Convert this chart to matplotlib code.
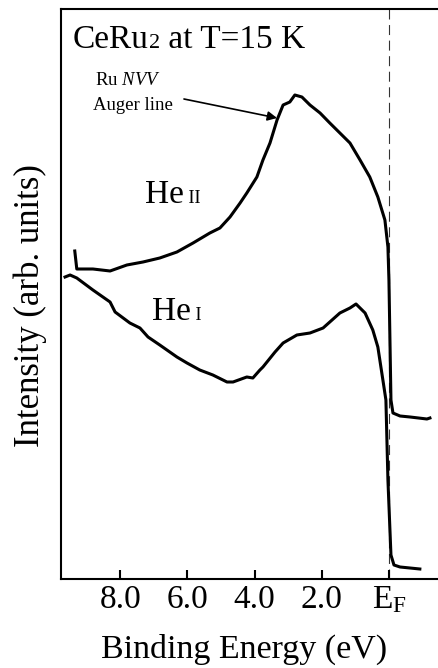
import matplotlib
matplotlib.use("Agg")
import matplotlib.pyplot as plt

plt.rcParams['font.family'] = ['Liberation Serif', 'DejaVu Serif']
plt.rcParams['mathtext.fontset'] = 'custom'
plt.rcParams['mathtext.rm'] = 'Liberation Serif'
plt.rcParams['mathtext.it'] = 'Liberation Serif:italic'

# Binding energy (eV) and intensity (arb. units)
he2_energy = [9.35, 9.29, 8.81, 8.30, 7.80, 7.32, 6.82, 6.31, 5.83, 5.33, 5.03, 4.73,
              4.43, 4.23, 3.93, 3.75, 3.54, 3.33, 3.15, 2.95, 2.80, 2.59, 2.35, 2.05,
              1.76, 1.46, 1.16, 0.86, 0.57, 0.33, 0.12, 0.03, 0.00, -0.06, -0.12,
              -0.33, -0.63, -1.13, -1.22]
he2_intensity = [328, 310, 310, 308, 314, 317, 321, 327, 336, 346, 351, 362,
                 376, 386, 402, 419, 436, 459, 474, 477, 484, 482, 474, 466,
                 456, 446, 436, 419, 402, 382, 359, 332, 299, 179, 166,
                 163, 162, 160, 161]

he1_energy = [9.64, 9.49, 9.29, 8.81, 8.30, 8.15, 7.71, 7.41, 7.17, 6.82, 6.31, 6.01,
              5.63, 5.24, 4.82, 4.64, 4.23, 4.05, 3.84, 3.75, 3.39, 3.15, 2.74, 2.35,
              1.96, 1.76, 1.46, 1.16, 0.98, 0.71, 0.48, 0.33, 0.18, 0.09, 0.03,
              -0.06, -0.15, -0.33, -0.92]
he1_intensity = [302, 304, 301, 289, 277, 267, 256, 251, 242, 234, 222, 216,
                 209, 204, 197, 197, 202, 201, 209, 212, 227, 236, 244, 246,
                 251, 257, 266, 271, 275, 266, 249, 232, 199, 179, 99,
                 24, 14, 12, 10]

tick_values = [8, 6, 4, 2, 0]
tick_labels = ['8.0', '6.0', '4.0', '2.0', r'E$_{\mathrm{F}}$']

fig = plt.figure(figsize=(4.39, 6.68), dpi=100)
ax = fig.add_axes([61/439, 89/668, (439-61)/439, (579-9)/668])

ax.plot(he2_energy, he2_intensity, color='black', lw=2.2, solid_joinstyle='round')
ax.plot(he1_energy, he1_intensity, color='black', lw=2.2, solid_joinstyle='round')
ax.axvline(0, color='#333333', lw=0.8, ls=(0, (9, 5)), zorder=0)

ax.set_xlim(9.76, -1.49)
ax.set_ylim(0, 570)

ax.set_xticks(tick_values)
ax.set_xticklabels(tick_labels)
ax.set_yticks([])
ax.tick_params(axis='x', direction='in', length=6.5, width=1.5, labelsize=24, pad=4)
for s in ['top', 'left', 'bottom']:
    ax.spines[s].set_linewidth(1.5)
ax.spines['right'].set_visible(False)

ax.set_xlabel('Binding Energy (eV)', fontsize=24.5, labelpad=13)
ax.xaxis.label.set_x(0.484)
ax.set_ylabel('Intensity (arb. units)', fontsize=25)
ax.yaxis.set_label_coords(-0.036, 0.479)


def chain(pieces, x, y):
    prev = ax.text(x, y, pieces[0][0], fontsize=pieces[0][1], va='baseline', ha='left')
    for s, size in pieces[1:]:
        prev = ax.annotate(s, xy=(1, y), xycoords=(prev, 'data'), fontsize=size,
                           va='baseline', ha='left')
    return prev


chain([('CeRu', 24), ('2', 16), (' at T=15 K', 24)], 9.40, 531)
chain([('He', 24), (' II', 13)], 7.26, 376)
chain([('He', 24), (' I', 13)], 7.05, 259)

ax.text(8.75, 494, r'Ru $\mathit{NVV}$', fontsize=13.5, va='baseline', ha='left')
ax.text(8.81, 469, 'Auger line', fontsize=13.5, va='baseline', ha='left')
ax.annotate('', xy=(3.33, 461), xytext=(6.10, 480),
            arrowprops=dict(arrowstyle='-|>', lw=1.2, color='black', mutation_scale=14,
                            shrinkA=0, shrinkB=0))

fig.savefig('out.png', dpi=100)
